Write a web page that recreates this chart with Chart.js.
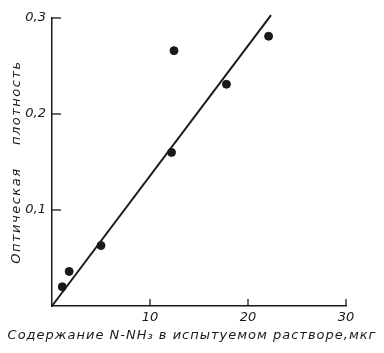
<!DOCTYPE html>
<html lang="ru">
<head>
    <meta charset="UTF-8">
    <title>Оптическая плотность</title>
    <style>
        body { margin: 0; padding: 0; background: #ffffff; }
        #wrap { width: 384px; height: 353px; }
    </style>
</head>
<body>
<div id="wrap"><canvas id="chart" width="384" height="353"></canvas></div>
<script src="https://cdn.jsdelivr.net/npm/chart.js@4"></script>
<script>
// measured points: N-NH3 content (мкг) vs optical density
const contentX = [1.05, 1.75, 5.0, 12.2, 12.45, 17.8, 22.1];
const densityY = [0.020, 0.036, 0.063, 0.160, 0.266, 0.231, 0.281];
// calibration line ends
const lineX = [0, 22.35];
const lineY = [0, 0.303];
const xTicks = [10, 20, 30];
const yTicks = [0.1, 0.2, 0.3];
const xTitle = 'Содержание N-NH₃ в испытуемом растворе,мкг';
const yTitle = 'Оптическая    плотность';

const ink = '#1a1a1a';
const labelFont = "italic 13px 'DejaVu Sans', sans-serif";

// ticks pointing inward + axis titles
const paperAxes = {
    id: 'paperAxes',
    afterDraw(chart) {
        const ctx = chart.ctx;
        const x = chart.scales.x, y = chart.scales.y;
        const area = chart.chartArea;
        ctx.save();
        ctx.strokeStyle = ink;
        ctx.lineWidth = 1.3;
        yTicks.forEach(v => {
            const py = y.getPixelForValue(v);
            ctx.beginPath();
            ctx.moveTo(area.left, py);
            ctx.lineTo(area.left + 9, py);
            ctx.stroke();
        });
        xTicks.forEach(v => {
            const px = x.getPixelForValue(v);
            ctx.beginPath();
            ctx.moveTo(px, area.bottom);
            ctx.lineTo(px, area.bottom - 7);
            ctx.stroke();
        });
        ctx.fillStyle = ink;
        ctx.font = labelFont;
        ctx.textAlign = 'center';
        ctx.textBaseline = 'middle';
        ctx.letterSpacing = '1px';
        ctx.fillText(xTitle, 192, 336);
        ctx.letterSpacing = '1.5px';
        ctx.translate(17, (area.top + area.bottom) / 2);
        ctx.rotate(-Math.PI / 2);
        ctx.fillText(yTitle, 0, 0);
        ctx.restore();
    }
};

const points = contentX.map((v, i) => ({ x: v, y: densityY[i] }));
const line = lineX.map((v, i) => ({ x: v, y: lineY[i] }));

new Chart(document.getElementById('chart'), {
    type: 'scatter',
    data: {
        datasets: [{
            data: points,
            backgroundColor: ink,
            borderColor: ink,
            pointRadius: 4,
            pointHoverRadius: 4
        }, {
            data: line,
            showLine: true,
            borderColor: ink,
            borderWidth: 2,
            pointRadius: 0,
            clip: false
        }]
    },
    options: {
        responsive: false,
        animation: false,
        events: [],
        layout: { padding: { top: 18, right: 38, left: 0, bottom: 0 } },
        plugins: { legend: { display: false }, tooltip: { enabled: false } },
        scales: {
            x: {
                type: 'linear',
                min: 0,
                max: 30,
                afterFit: s => { s.height = 47; },
                grid: { display: false, drawTicks: false },
                border: { display: true, color: ink, width: 1.5 },
                ticks: {
                    stepSize: 10,
                    padding: 4,
                    color: ink,
                    font: { family: "'DejaVu Sans', sans-serif", size: 13, style: 'italic' },
                    callback: v => xTicks.includes(v) ? String(v) : ''
                }
            },
            y: {
                min: 0,
                max: 0.3,
                afterFit: s => { s.width = 52; },
                grid: { display: false, drawTicks: false },
                border: { display: true, color: ink, width: 1.5 },
                ticks: {
                    stepSize: 0.1,
                    padding: 6,
                    color: ink,
                    font: { family: "'DejaVu Sans', sans-serif", size: 13, style: 'italic' },
                    callback: v => {
                        const t = yTicks.find(k => Math.abs(k - v) < 1e-6);
                        return t ? t.toFixed(1).replace('.', ',') : '';
                    }
                }
            }
        }
    },
    plugins: [paperAxes]
});
</script>
</body>
</html>
